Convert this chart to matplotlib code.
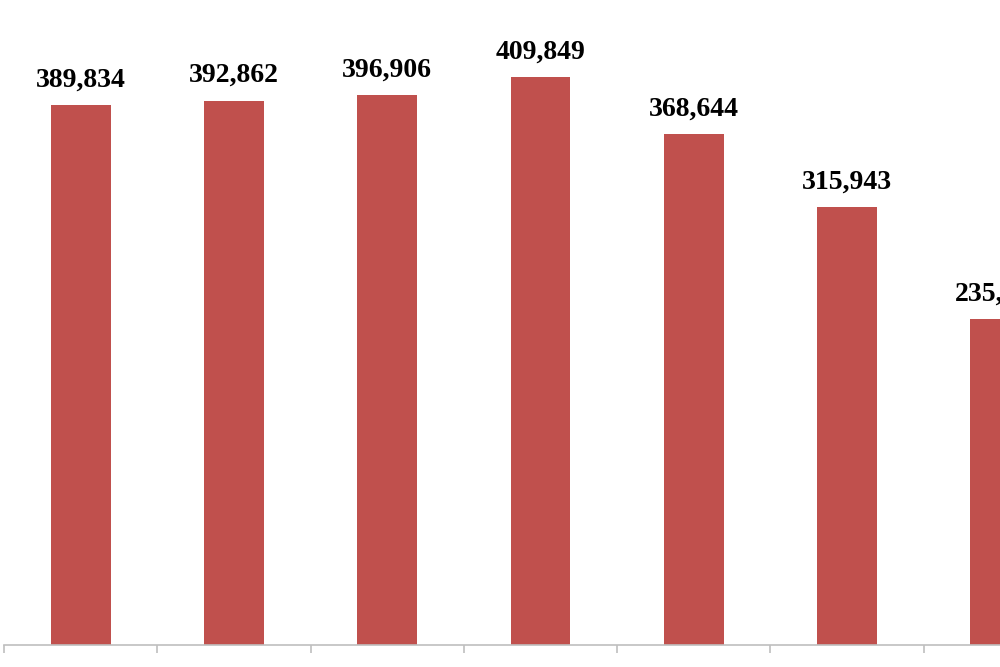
import matplotlib.pyplot as plt
import numpy as np

# Data
categories = ['FY2006', 'FY2007', 'FY2008', 'FY2009', 'FY2010', 'FY2011', 'FY2012']
values = [389834, 392862, 396906, 409849, 368644, 315943, 235290]

bar_color = '#c0504d'
axis_gray = '#bfbfbf'
font = 'Liberation Serif'

fig = plt.figure(figsize=(10, 6.67), dpi=100)
# axes extends past the right edge, like the cropped original
ax = fig.add_axes([0.004, 0.033, 1.073, 0.935])

x = np.arange(len(categories))
ax.bar(x, values, width=0.39, color=bar_color, zorder=2)

for xi, v in zip(x, values):
    ax.annotate(f'{v:,}', (xi, v), xytext=(0, 9), textcoords='offset points',
                ha='center', va='bottom', fontsize=20, fontweight='bold',
                family=font, color='black')

ax.set_xlim(-0.5, len(categories) - 0.5)
ax.set_ylim(0, 450000)

# tick marks between categories, labels under the bars
ax.set_xticks(x)
ax.set_xticklabels(categories, family=font, fontsize=20, fontweight='bold', color='#595959')
ax.tick_params(axis='x', which='major', length=0, pad=16.5)
ax.set_xticks(np.arange(-0.5, len(categories), 1), minor=True)
ax.tick_params(axis='x', which='minor', length=6, width=1.2, color=axis_gray, direction='out')

ax.set_yticks([])
for side in ['top', 'right', 'left']:
    ax.spines[side].set_visible(False)
ax.spines['bottom'].set_color(axis_gray)
ax.spines['bottom'].set_linewidth(1.2)

fig.savefig('out.png', dpi=100)
